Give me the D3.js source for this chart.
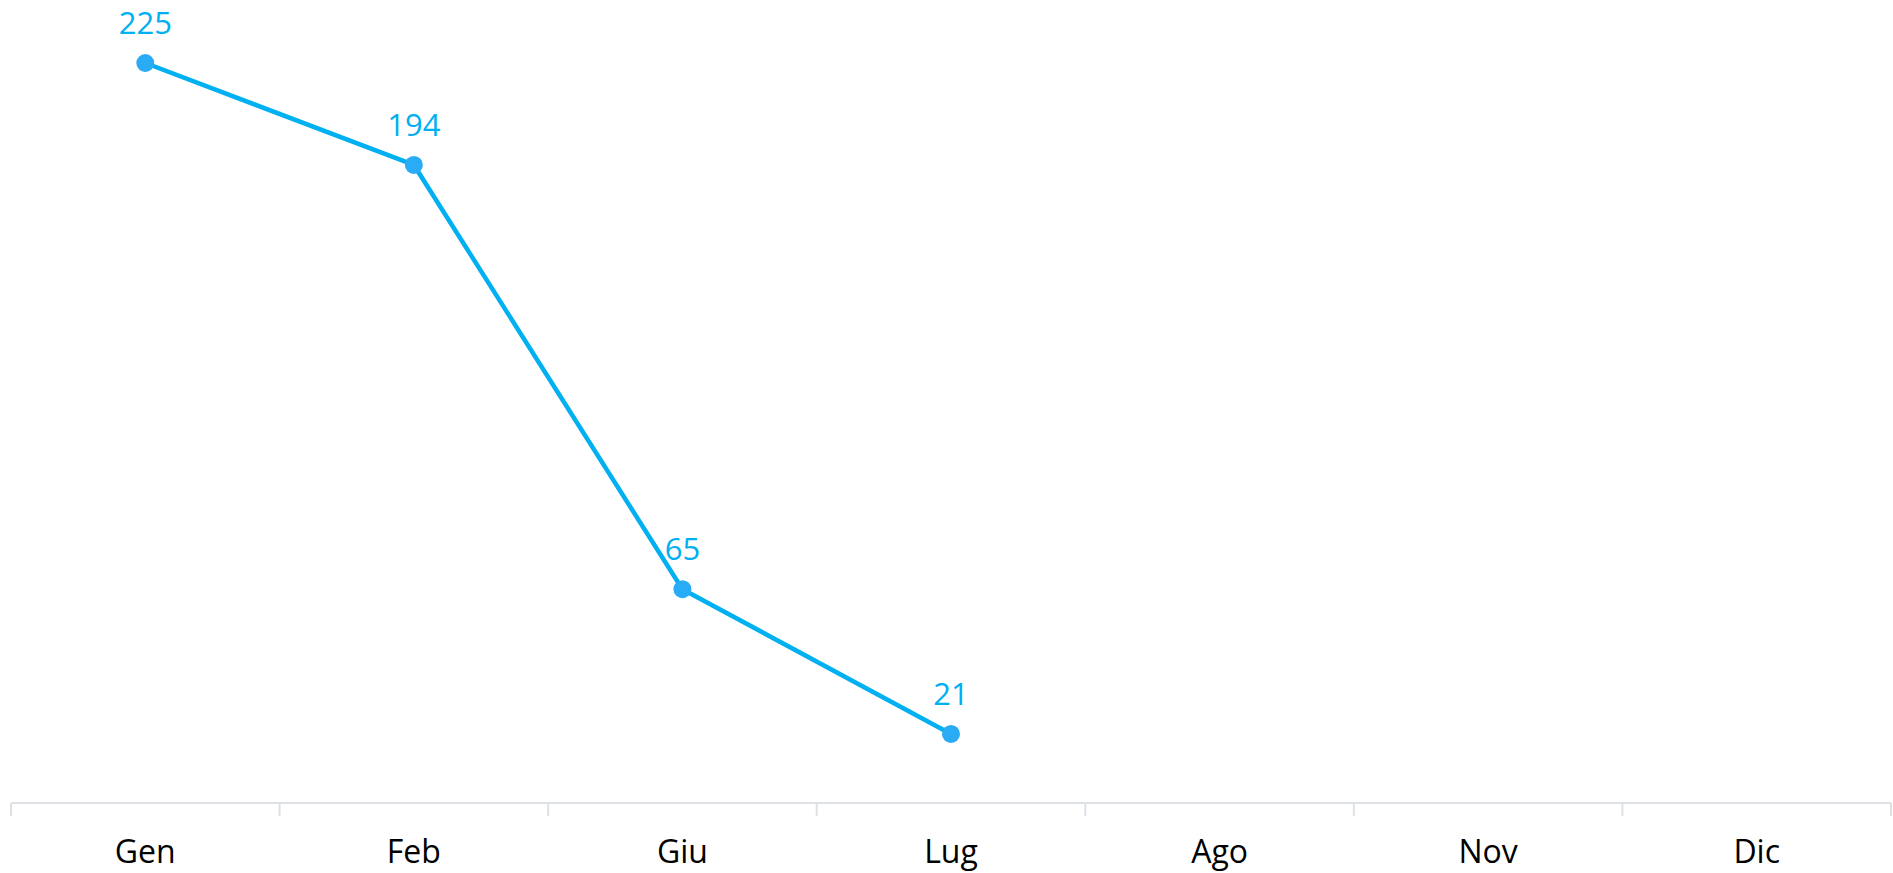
<!DOCTYPE html>
<html>
<head>
<meta charset="utf-8">
<script src="https://cdn.jsdelivr.net/npm/d3@7"></script>
<style>
    body { margin: 0; background: #fff; }
    #chart { width: 1893px; height: 873px; }
    text { font-family: "Open Sans", sans-serif; }
</style>
</head>
<body>
<div id="chart"></div>
<script>
// Month labels and values (only first four have data)
const months = ["Gen", "Feb", "Giu", "Lug", "Ago", "Nov", "Dic"];
const values = [225, 194, 65, 21, null, null, null];

const width = 1893;
const height = 873;
const margin = { top: 0, right: 2, bottom: 70, left: 11 };

const svg = d3.select("#chart")
    .append("svg")
    .attr("width", width)
    .attr("height", height);

const x = d3.scaleBand()
    .domain(months)
    .range([margin.left, width - margin.right]);

const y = d3.scaleLinear()
    .domain([0, 225])
    .range([height - margin.bottom, 63]);

// x axis
const axis = svg.append("g")
    .attr("transform", `translate(0, ${height - margin.bottom})`);

axis.append("line")
    .attr("x1", x.range()[0])
    .attr("x2", x.range()[1])
    .attr("stroke", "#dde1e6")
    .attr("stroke-width", 2);

// tick marks at band edges
const edges = months.map(m => x(m)).concat([x.range()[1]]);
axis.selectAll(".tick")
    .data(edges)
    .enter()
    .append("line")
    .attr("x1", d => d)
    .attr("x2", d => d)
    .attr("y1", 0)
    .attr("y2", 13)
    .attr("stroke", "#dde1e6")
    .attr("stroke-width", 2);

axis.selectAll(".label")
    .data(months)
    .enter()
    .append("text")
    .attr("x", d => x(d) + x.bandwidth() / 2)
    .attr("y", 60)
    .attr("text-anchor", "middle")
    .attr("font-size", 32)
    .attr("fill", "#000")
    .text(d => d);

// data points
const points = months.map((m, i) => ({ month: m, value: values[i] }))
    .filter(d => d.value !== null);

const cx = d => x(d.month) + x.bandwidth() / 2;

const line = d3.line()
    .x(cx)
    .y(d => y(d.value));

svg.append("path")
    .datum(points)
    .attr("d", line)
    .attr("fill", "none")
    .attr("stroke", "#00b0f0")
    .attr("stroke-width", 4.5);

svg.selectAll(".dot")
    .data(points)
    .enter()
    .append("circle")
    .attr("cx", cx)
    .attr("cy", d => y(d.value))
    .attr("r", 9)
    .attr("fill", "#29abf5");

svg.selectAll(".value")
    .data(points)
    .enter()
    .append("text")
    .attr("x", cx)
    .attr("y", d => y(d.value) - 29)
    .attr("text-anchor", "middle")
    .attr("font-size", 31)
    .attr("fill", "#00b0f0")
    .text(d => d.value);
</script>
</body>
</html>
